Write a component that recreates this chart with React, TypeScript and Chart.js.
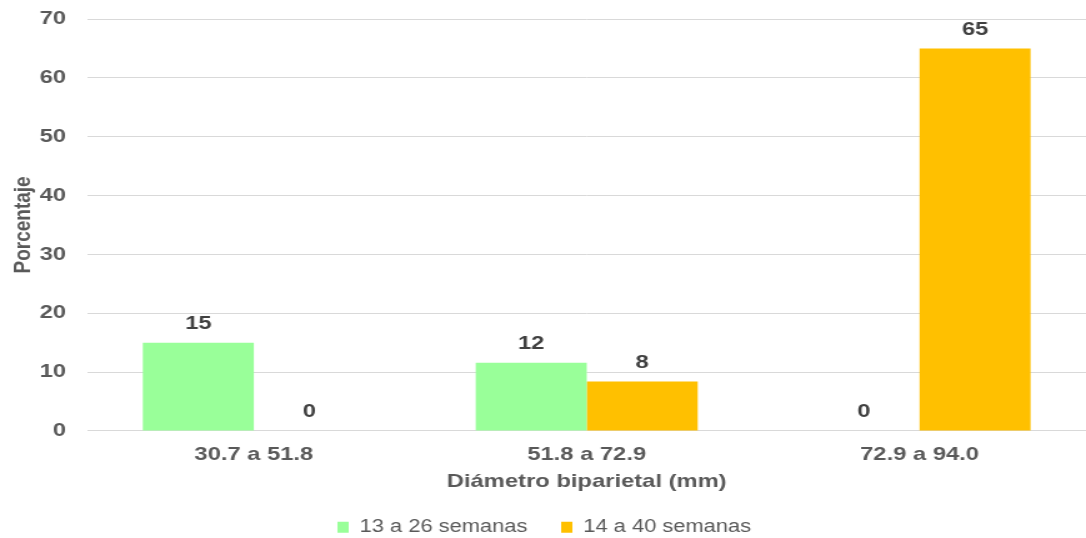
import React, { useEffect, useRef } from "react";
import { Chart, registerables } from "chart.js";

Chart.register(...registerables);

const categories = ["30.7 a 51.8", "51.8 a 72.9", "72.9 a 94.0"];
const seriesNames = ["13 a 26 semanas", "14 a 40 semanas"];
const series13a26 = [15, 11.6, 0];
const series14a40 = [0, 8.4, 65];
const yTicks = [0, 10, 20, 30, 40, 50, 60, 70];

const STRETCH = 1.25;
const OUT_W = 1086;
const OUT_H = 538;
const RENDER_W = Math.round(OUT_W / STRETCH);

const dataLabels = {
  id: "dataLabels",
  afterDatasetsDraw(chart: any) {
    const ctx = chart.ctx;
    ctx.save();
    ctx.font = "bold 19px 'Liberation Sans', Arial, sans-serif";
    ctx.fillStyle = "#404040";
    ctx.textAlign = "center";
    ctx.textBaseline = "middle";
    chart.data.datasets.forEach((ds: any, i: number) => {
      const meta = chart.getDatasetMeta(i);
      meta.data.forEach((bar: any, j: number) => {
        const v = ds.data[j];
        ctx.fillText(String(Math.round(v)), bar.x, bar.y - 19);
      });
    });
    ctx.restore();
  },
};

export default function App() {
  const ref = useRef<HTMLCanvasElement>(null);
  useEffect(() => {
    document.body.style.margin = "0";
    const fam = "'Liberation Sans', Arial, sans-serif";
    Chart.defaults.font.family = fam;
    const chart = new Chart(ref.current as HTMLCanvasElement, {
      type: "bar",
      data: {
        labels: categories,
        datasets: [
          { label: seriesNames[0], data: series13a26, backgroundColor: "#99FF99", borderWidth: 0 },
          { label: seriesNames[1], data: series14a40, backgroundColor: "#FFC000", borderWidth: 0 },
        ],
      },
      options: {
        responsive: false,
        animation: false,
        devicePixelRatio: 1,
        layout: { padding: { top: 19, right: 0, bottom: -8, left: 2 } },
        datasets: { bar: { categoryPercentage: 0.667, barPercentage: 1 } },
        plugins: {
          legend: {
            position: "bottom",
            labels: {
              boxWidth: 9,
              boxHeight: 11,
              padding: 27,
              color: "#595959",
              font: { size: 17.5, family: fam },
            },
          },
          tooltip: { enabled: false },
        },
        scales: {
          x: {
            grid: { display: false, drawTicks: false },
            border: { display: false },
            ticks: { color: "#595959", padding: 12, font: { size: 19, weight: "bold", family: fam } },
            title: {
              display: true,
              text: "Diámetro biparietal (mm)",
              color: "#595959",
              padding: { top: -7, bottom: -2 },
              font: { size: 19, weight: "bold", family: fam },
            },
          },
          y: {
            min: 0,
            max: 70,
            afterBuildTicks: (axis: any) => {
              axis.ticks = yTicks.map((v) => ({ value: v }));
            },
            grid: { color: "#d9d9d9", lineWidth: 1, drawTicks: false },
            border: { display: false },
            ticks: { color: "#595959", padding: 17, font: { size: 19, weight: "bold", family: fam, lineHeight: 0.1 } },
            title: {
              display: true,
              text: "Porcentaje",
              color: "#595959",
              padding: { top: 5, bottom: -15 },
              font: { size: 19, weight: "bold", family: fam },
            },
          },
        },
      },
      plugins: [dataLabels],
    });
    return () => chart.destroy();
  }, []);
  return (
    <div style={{ width: OUT_W, height: OUT_H, position: "relative" }}>
      <canvas
        ref={ref}
        width={RENDER_W}
        height={OUT_H}
        style={{ width: OUT_W + "px", height: OUT_H + "px", display: "block" }}
      />
    </div>
  );
}
